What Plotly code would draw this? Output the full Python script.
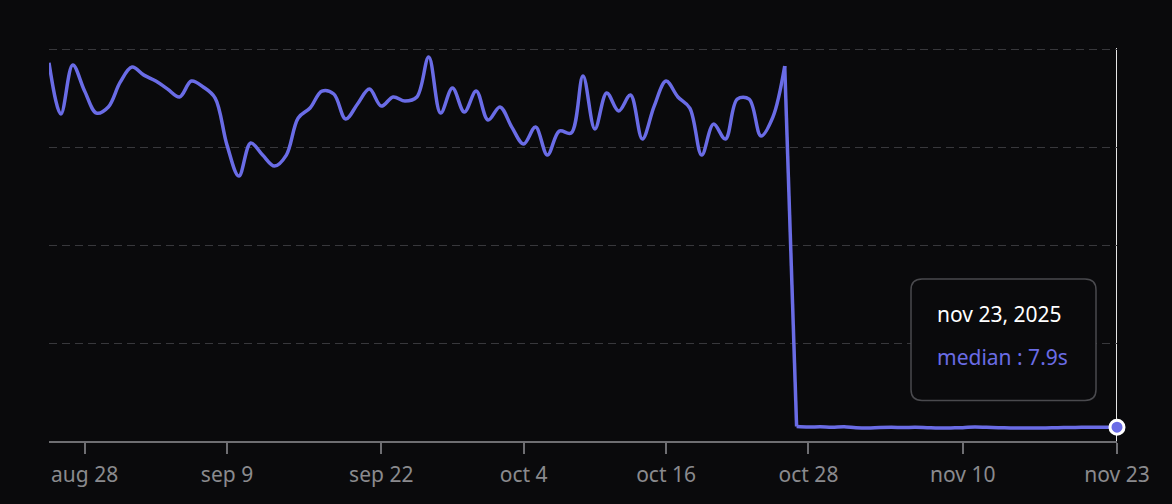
import pandas as pd
import plotly.graph_objects as go

start_date = "2025-08-25"
median_seconds = [
    216.2, 186.9, 214.9, 200.0, 187.4, 190.9, 205.1, 213.7, 209.1, 205.7,
    201.1, 196.6, 205.7, 202.3, 196.0, 169.1, 151.4, 170.3, 163.4, 157.1,
    163.4, 184.6, 190.3, 200.0, 198.3, 184.0, 192.6, 201.1, 191.4, 196.6,
    194.3, 196.6, 219.4, 187.4, 201.7, 188.0, 200.0, 183.4, 190.9, 179.4,
    169.7, 179.4, 163.4, 177.1, 176.0, 208.6, 178.3, 198.9, 188.6, 197.7,
    172.6, 191.4, 205.7, 196.6, 190.3, 163.4, 181.1, 172.6, 195.4, 195.4,
    174.3, 185.1, 214.3,
    8.3, 8.0, 8.1, 7.9, 8.2, 7.6, 7.4, 7.7, 7.8, 7.7,
    7.8, 7.6, 7.4, 7.5, 7.6, 8.0, 7.8, 7.6, 7.5, 7.4,
    7.4, 7.5, 7.6, 7.7, 7.8, 7.9, 7.8, 7.9,
]
drop_index = 63  # first day after the drop
dates = pd.date_range(start_date, periods=len(median_seconds), freq="D")

tick_dates = ["2025-08-28", "2025-09-09", "2025-09-22", "2025-10-04",
              "2025-10-16", "2025-10-28", "2025-11-10", "2025-11-23"]
tick_labels = ["aug 28", "sep 9", "sep 22", "oct 4", "oct 16", "oct 28", "nov 10", "nov 23"]

tooltip_title = "nov 23, 2025"
tooltip_label = "median : 7.9s"

BG = "#0a0a0c"
LINE = "#6a6ce6"
FONT = "Noto Sans"
LW = 3.5

fig = go.Figure()
segments = [
    (0, drop_index, "spline"),                      # before the drop
    (drop_index - 1, drop_index + 1, "linear"),     # the drop itself
    (drop_index, len(median_seconds), "spline"),    # after the drop
]
for a, b, shape in segments:
    fig.add_trace(go.Scatter(
        x=dates[a:b], y=median_seconds[a:b], mode="lines",
        line=dict(color=LINE, width=LW, shape=shape, smoothing=1.0),
        hoverinfo="skip", showlegend=False,
    ))
# highlighted last point
fig.add_trace(go.Scatter(
    x=[dates[-1]], y=[median_seconds[-1]], mode="markers",
    marker=dict(color=LINE, size=14, line=dict(color="#ffffff", width=3)),
    cliponaxis=False, hoverinfo="skip", showlegend=False,
))

# cursor line at last date
fig.add_shape(type="line", xref="x", yref="paper",
              x0=dates[-1], x1=dates[-1], y0=0, y1=1,
              line=dict(color="#e6e6e6", width=2), layer="below")

# tooltip box (rounded) in paper coords
W, H = 1068.0, 393.0
x0, x1 = (911 - 49) / W, (1096 - 49) / W
y0, y1 = (441 - 400.5) / H, (441 - 279) / H
rx, ry = 11 / W, 11 / H
path = (f"M {x0+rx},{y0} L {x1-rx},{y0} Q {x1},{y0} {x1},{y0+ry} "
        f"L {x1},{y1-ry} Q {x1},{y1} {x1-rx},{y1} L {x0+rx},{y1} "
        f"Q {x0},{y1} {x0},{y1-ry} L {x0},{y0+ry} Q {x0},{y0} {x0+rx},{y0} Z")
fig.add_shape(type="path", xref="paper", yref="paper", path=path,
              fillcolor=BG, line=dict(color="#4a4a4e", width=1.5), layer="above")
fig.add_annotation(xref="paper", yref="paper", x=(935 - 49) / W, y=(441 - 314) / H,
                   text=tooltip_title, showarrow=False, xanchor="left", yanchor="middle",
                   font=dict(family=FONT, size=21, color="#ffffff"))
fig.add_annotation(xref="paper", yref="paper", x=(935 - 49) / W, y=(441 - 357) / H,
                   text=tooltip_label, showarrow=False, xanchor="left", yanchor="middle",
                   font=dict(family=FONT, size=21, color=LINE))

fig.update_layout(
    width=1172, height=504,
    margin=dict(l=49, r=55, t=48, b=63),
    paper_bgcolor=BG, plot_bgcolor=BG,
    hovermode=False,
    font=dict(family=FONT),
)
fig.update_xaxes(
    range=[dates[0], dates[-1]],
    tickvals=pd.to_datetime(tick_dates), ticktext=tick_labels,
    showgrid=False, zeroline=False,
    showline=True, linecolor="#6e6e72", linewidth=2,
    ticks="outside", ticklen=11, tickwidth=2, tickcolor="#6e6e72",
    tickfont=dict(family=FONT, size=21, color="#8a8a8e"),
    ticklabelstandoff=3,
)
fig.update_yaxes(
    range=[0, 224.6], dtick=56, tick0=0,
    showticklabels=False, zeroline=False, showline=False,
    showgrid=True, gridcolor="#38383c", gridwidth=1, griddash="8px,5px",
)

fig.write_html(
    "out.html",
    config={"displayModeBar": False},
    post_script="document.body.style.margin='0';document.body.style.background='#0a0a0c';",
)
